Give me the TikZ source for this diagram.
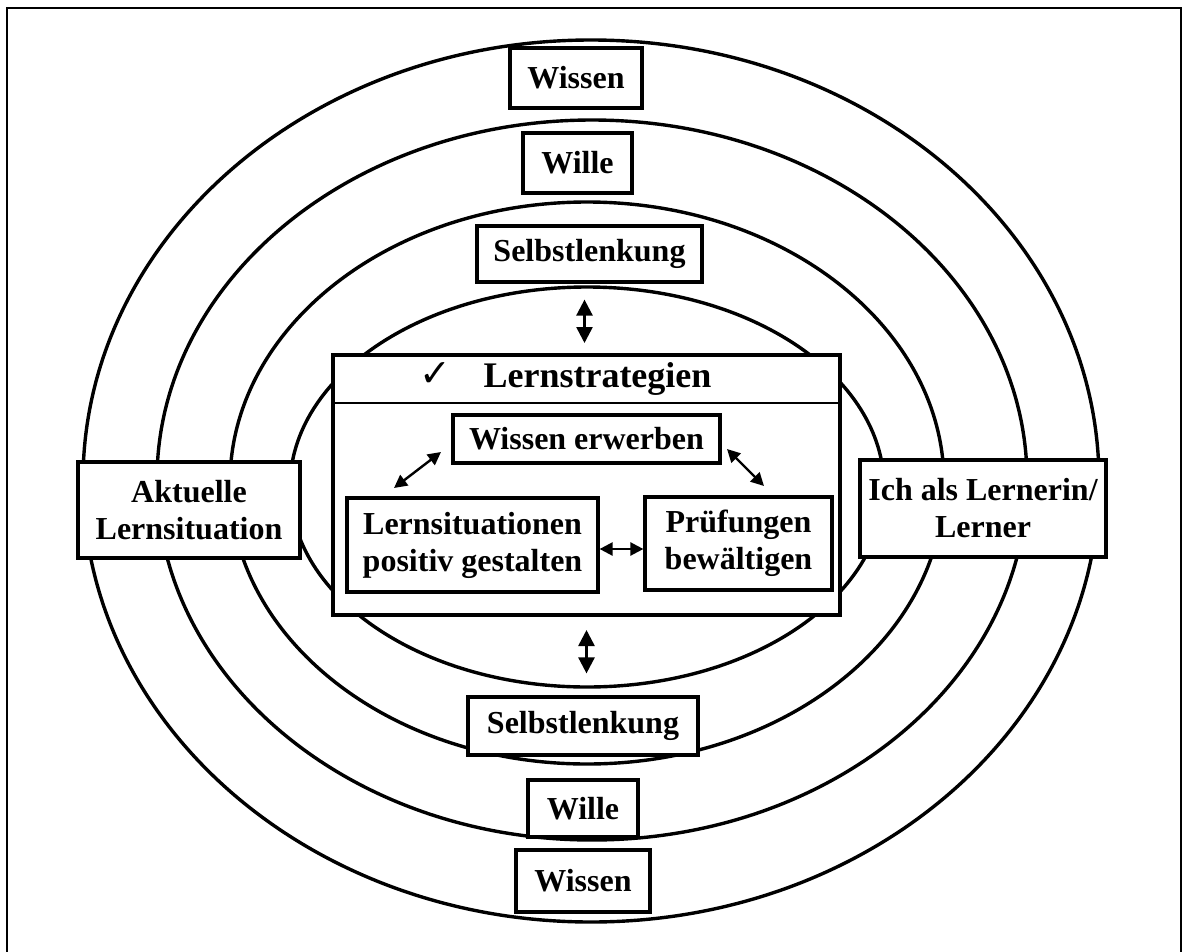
\documentclass[tikz,border=0pt]{standalone}
\usepackage{fontspec}
\setmainfont{Liberation Serif}
\newfontfamily\symfont{DejaVu Sans}
\usetikzlibrary{arrows.meta,calc}

\begin{document}
\begin{tikzpicture}[x=1pt,y=-1pt,
  ring/.style={line width=3.4pt},
  lbl/.style={draw, line width=3.2pt, fill=white, rectangle, inner sep=0pt,
    align=center, font=\fontsize{32}{37}\selectfont\bfseries},
  dblarrow/.style={line width=2.6pt,
    {Triangle[width=16pt,length=16pt]}-{Triangle[width=16pt,length=16pt]}},
  smallarrow/.style={line width=2.4pt,
    {Triangle[width=13pt,length=13pt]}-{Triangle[width=13pt,length=13pt]}}
]
\path[use as bounding box] (0,0) rectangle (1184,951);

% page frame, open at the bottom edge
\draw[line width=2.5pt] (7,970) -- (7,8) -- (1181,8) -- (1181,970);

% concentric rings
\draw[ring] (591,481) ellipse [x radius=508pt, y radius=441pt];
\draw[ring] (592,480) ellipse [x radius=435pt, y radius=360pt];
\draw[ring] (587,483) ellipse [x radius=357pt, y radius=281pt];
\draw[ring] (587,487) ellipse [x radius=297pt, y radius=200pt];

% labels on the upper half of the rings
\node[lbl, minimum width=132pt, minimum height=60pt] (wissenT) at (576,78) {Wissen};
\node[lbl, minimum width=109pt, minimum height=60pt] (willeT) at (577.5,163) {Wille};
\node[lbl, minimum width=225pt, minimum height=56pt] (selbstT) at (589.5,254) {Selbstlenkung};

% labels on the lower half of the rings
\node[lbl, minimum width=230pt, minimum height=58pt] (selbstB) at (583,726) {Selbstlenkung};
\node[lbl, minimum width=110pt, minimum height=57pt] (willeB) at (583,808.5) {Wille};
\node[lbl, minimum width=134pt, minimum height=62pt] (wissenB) at (583,881) {Wissen};

% side labels
\node[lbl, minimum width=222pt, minimum height=96pt] (aktuell) at (189,510)
  {Aktuelle\\Lernsituation};
\node[lbl, minimum width=246pt, minimum height=97pt] (ich) at (983,508.5)
  {Ich als Lernerin/\\Lerner};

% central panel
\node[draw, line width=4pt, fill=white, minimum width=507pt, minimum height=260pt,
  inner sep=0pt] (strat) at (586.5,485) {};
\draw[line width=1.5pt] (strat.west |- 0,403) -- (strat.east |- 0,403);
\node[anchor=base, font=\symfont\fontsize{38}{40}\selectfont] (tick) at (435,386) {✓};
\node[anchor=base, font=\fontsize{36}{40}\selectfont\bfseries] (title) at (597.5,387)
  {Lernstrategien};

\node[lbl, minimum width=267pt, minimum height=48pt] (erwerben) at (586.5,439)
  {Wissen erwerben};
\node[lbl, minimum width=251pt, minimum height=94pt] (lernsit) at (472.5,545)
  {Lernsituationen\\positiv gestalten};
\node[lbl, minimum width=187pt, minimum height=93pt] (pruef) at (738.5,543.5)
  {Prüfungen\\bewältigen};

% connectors
\draw[dblarrow, shorten <=16pt, shorten >=10pt]
  ([xshift=-5pt]selbstT.south) -- ([xshift=-5pt]selbstT.south |- strat.north);
\draw[dblarrow, shorten <=13pt, shorten >=22pt]
  (strat.south) -- (strat.south |- selbstB.north);
\draw[smallarrow]
  ([yshift=-4pt]lernsit.east) -- ([yshift=-4pt]lernsit.east -| pruef.west);

\coordinate (dlA) at (441,452);
\coordinate (dlB) at (394,488);
\coordinate (drA) at (727,449);
\coordinate (drB) at (764,486);
\draw[smallarrow] (dlB) -- (dlA);
\draw[smallarrow] (drA) -- (drB);
\end{tikzpicture}
\end{document}
